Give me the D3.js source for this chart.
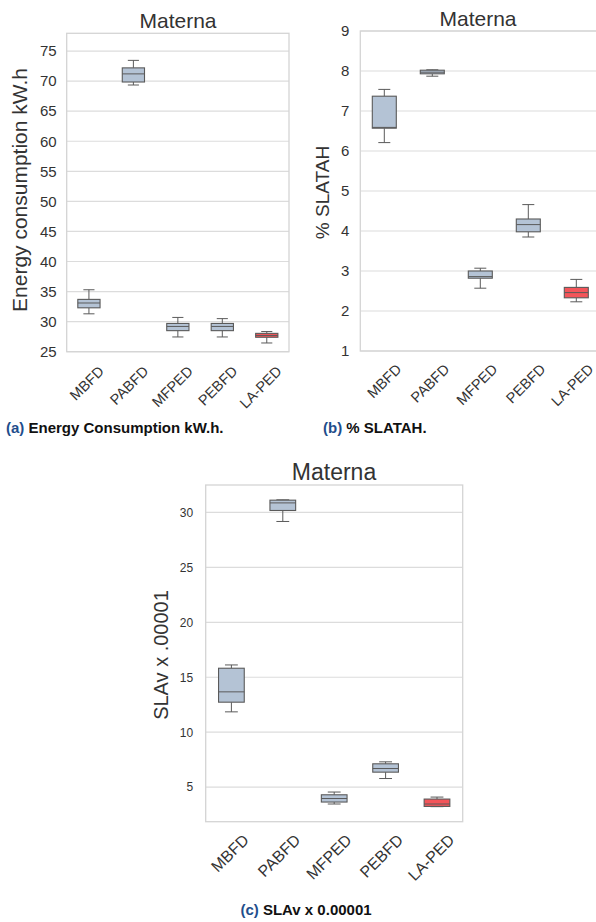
<!DOCTYPE html>
<html>
<head>
<meta charset="utf-8">
<script src="https://cdn.jsdelivr.net/npm/d3@7"></script>
<style>
  body { margin: 0; background: #fff; }
  text { font-family: "Liberation Sans", Arial, sans-serif; }
</style>
</head>
<body>
<svg width="596" height="922"></svg>
<script>
// categories shared by the three panels
var methods = ["MBFD", "PABFD", "MFPED", "PEBFD", "LA-PED"];

// box stats per method: [whisker low, q1, median, q3, whisker high]
var energyStats = [
  [31.3, 32.3, 33.1, 33.7, 35.3],
  [69.35, 69.85, 71.2, 72.2, 73.45],
  [27.45, 28.5, 29.2, 29.7, 30.7],
  [27.45, 28.5, 29.2, 29.7, 30.5],
  [26.45, 27.4, 27.7, 28.05, 28.35]
];
var slatahStats = [
  [6.21, 6.57, 6.59, 7.37, 7.54],
  [7.87, 7.93, 7.97, 8.02, 8.03],
  [2.57, 2.82, 2.86, 3.0, 3.07],
  [3.85, 3.98, 4.16, 4.30, 4.66],
  [2.23, 2.33, 2.46, 2.59, 2.79]
];
var slavStats = [
  [11.85, 12.73, 13.67, 15.82, 16.12],
  [29.18, 30.18, 30.87, 31.12, 31.15],
  [3.46, 3.64, 3.96, 4.3, 4.55],
  [5.78, 6.36, 6.69, 7.12, 7.3],
  [3.22, 3.24, 3.46, 3.91, 4.09]
];

var energyTicks = [25, 30, 35, 40, 45, 50, 55, 60, 65, 70, 75];
var slatahTicks = [1, 2, 3, 4, 5, 6, 7, 8, 9];
var slavTicks = [5, 10, 15, 20, 25, 30];

var svg = d3.select("svg");

function drawPanel(p) {
  var x = d3.scaleBand().domain(methods).range([p.x0, p.x1]);
  var y = d3.scaleLinear().domain(p.domain).range([p.y1, p.y0]);
  var g = svg.append("g");

  // grid lines
  g.selectAll(".grid").data(p.ticks).enter().append("line")
    .attr("x1", p.x0).attr("x2", p.x1)
    .attr("y1", function(d) { return y(d); })
    .attr("y2", function(d) { return y(d); })
    .attr("stroke", "#dcdcdc").attr("stroke-width", 1.2);

  // frame
  g.append("rect")
    .attr("x", p.x0).attr("y", p.y0)
    .attr("width", p.x1 - p.x0).attr("height", p.y1 - p.y0)
    .attr("fill", "none").attr("stroke", "#d4d4d4").attr("stroke-width", 1.3);

  // y tick labels
  g.append("g")
    .attr("transform", "translate(" + (p.x0 - p.tickGap) + ",0)")
    .call(d3.axisLeft(y).tickValues(p.ticks).tickSize(0).tickPadding(0))
    .call(function(a) { a.select(".domain").remove(); })
    .selectAll("text")
    .attr("font-size", p.tickFont)
    .attr("font-family", "Liberation Sans, Arial, sans-serif")
    .attr("fill", "#333");

  // x tick labels, rotated
  methods.forEach(function(m) {
    var cx = x(m) + x.bandwidth() / 2;
    g.append("text")
      .attr("transform", "translate(" + (cx + p.lab[0]) + "," + (p.y1 + p.lab[1]) + ") rotate(-45)")
      .attr("text-anchor", "end")
      .attr("font-size", p.xFont)
      .attr("fill", "#333")
      .text(m);
  });

  // boxes
  var bw = x.bandwidth() * 0.5;
  p.stats.forEach(function(s, i) {
    var cx = x(methods[i]) + x.bandwidth() / 2;
    var stroke = "#5a5a5a";
    g.append("line").attr("x1", cx).attr("x2", cx)
      .attr("y1", y(s[0])).attr("y2", y(s[1])).attr("stroke", stroke);
    g.append("line").attr("x1", cx).attr("x2", cx)
      .attr("y1", y(s[3])).attr("y2", y(s[4])).attr("stroke", stroke);
    [s[0], s[4]].forEach(function(v) {
      g.append("line").attr("x1", cx - bw / 4).attr("x2", cx + bw / 4)
        .attr("y1", y(v)).attr("y2", y(v)).attr("stroke", stroke);
    });
    g.append("rect")
      .attr("x", cx - bw / 2).attr("width", bw)
      .attr("y", y(s[3])).attr("height", y(s[1]) - y(s[3]))
      .attr("fill", i === 4 ? "#f4555a" : "#b4c3d5")
      .attr("stroke", stroke).attr("stroke-width", 1.1);
    g.append("line").attr("x1", cx - bw / 2).attr("x2", cx + bw / 2)
      .attr("y1", y(s[2])).attr("y2", y(s[2])).attr("stroke", stroke);
  });

  // title
  g.append("text")
    .attr("x", p.title[0]).attr("y", p.title[1])
    .attr("text-anchor", "middle")
    .attr("font-size", p.titleFont).attr("fill", "#333")
    .text("Materna");

  // y axis title
  g.append("text")
    .attr("transform", "translate(" + p.yLab[0] + "," + p.yLab[1] + ") rotate(-90)")
    .attr("text-anchor", "middle")
    .attr("font-size", p.yLabFont).attr("fill", "#333")
    .text(p.yLabel);

  // caption
  var c = svg.append("text")
    .attr("x", p.cap[0]).attr("y", p.cap[1])
    .attr("text-anchor", p.capAnchor)
    .attr("font-size", 15).attr("font-weight", "bold");
  c.append("tspan").attr("fill", "#1f4e8c").text(p.capTag + " ");
  c.append("tspan").attr("fill", "#111").text(p.capText);
}

drawPanel({
  stats: energyStats, ticks: energyTicks, domain: [25, 77.95],
  x0: 66.7, x1: 289, y0: 33.3, y1: 351.7,
  tickGap: 10, tickFont: 15, xFont: 14.5, lab: [16, 20.5],
  title: [178, 28], titleFont: 21, yLab: [27, 190], yLabFont: 21,
  yLabel: "Energy consumption kW.h",
  cap: [6, 433], capAnchor: "start", capTag: "(a)", capText: "Energy Consumption kW.h."
});

drawPanel({
  stats: slatahStats, ticks: slatahTicks, domain: [1, 9],
  x0: 360.3, x1: 600.3, y0: 31, y1: 351,
  tickGap: 11, tickFont: 15, xFont: 14.5, lab: [18, 19],
  title: [478, 26], titleFont: 21, yLab: [329, 192.5], yLabFont: 19,
  yLabel: "% SLATAH",
  cap: [323, 433], capAnchor: "start", capTag: "(b)", capText: "% SLATAH."
});

drawPanel({
  stats: slavStats, ticks: slavTicks, domain: [1.85, 32.5],
  x0: 205.7, x1: 462.7, y0: 485, y1: 821.7,
  tickGap: 12.5, tickFont: 12, xFont: 16, lab: [18.5, 19.3],
  title: [334, 480], titleFont: 23, yLab: [168, 655], yLabFont: 20,
  yLabel: "SLAv x .00001",
  cap: [306, 915], capAnchor: "middle", capTag: "(c)", capText: "SLAv x 0.00001"
});
</script>
</body>
</html>
